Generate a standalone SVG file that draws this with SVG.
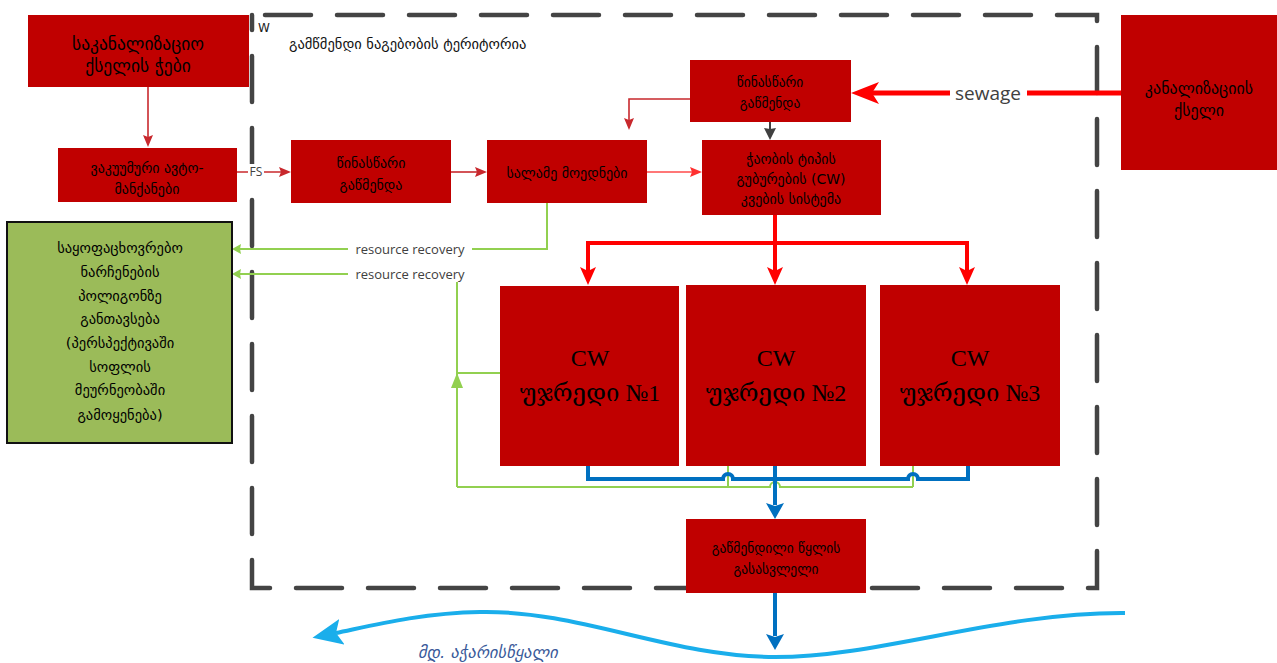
<svg xmlns="http://www.w3.org/2000/svg" width="1277" height="663" viewBox="0 0 1277 663">
<defs>
<style>
.box{fill:#c00000}
.t{font-family:"DejaVu Sans",sans-serif;fill:#000;text-anchor:middle}
.cw{font-family:"Liberation Serif","DejaVu Serif","DejaVu Sans",serif;fill:#000;text-anchor:middle;font-size:24px}
.lbl{font-family:"Open Sans","DejaVu Sans",sans-serif;fill:#404040;text-anchor:middle}
.dr{fill:none;stroke:#c8282d;stroke-width:1.6}
.lr{fill:none;stroke:#ff4a4a;stroke-width:1.6}
.rd{fill:none;stroke:#ff0000;stroke-width:4}
.gr{fill:none;stroke:#92d050;stroke-width:2}
.bl{fill:none;stroke:#0070c0;stroke-width:4}
</style>
<marker id="mDR" viewBox="0 0 12 10" refX="2" refY="5" markerWidth="12" markerHeight="10" markerUnits="userSpaceOnUse" orient="auto"><path d="M0,0L12,5L0,10L2,5z" fill="#c8282d"/></marker>
<marker id="mLR" viewBox="0 0 12 10" refX="2" refY="5" markerWidth="12" markerHeight="10" markerUnits="userSpaceOnUse" orient="auto"><path d="M0,0L12,5L0,10L2,5z" fill="#ff3030"/></marker>
<marker id="mGy" viewBox="0 0 12 12" refX="1" refY="6" markerWidth="12" markerHeight="12" markerUnits="userSpaceOnUse" orient="auto"><path d="M0,0L12,6L0,12L1,6z" fill="#404040"/></marker>
<marker id="mSew" viewBox="0 0 28 22" refX="7" refY="11" markerWidth="28" markerHeight="22" markerUnits="userSpaceOnUse" orient="auto"><path d="M0,0L28,11L0,22L7,11z" fill="#ff0000"/></marker>
<marker id="mRB" viewBox="0 0 18 16" refX="4" refY="8" markerWidth="18" markerHeight="16" markerUnits="userSpaceOnUse" orient="auto"><path d="M0,0L18,8L0,16L4,8z" fill="#ff0000"/></marker>
<marker id="mGr" viewBox="0 0 9 10" refX="1" refY="5" markerWidth="9" markerHeight="10" markerUnits="userSpaceOnUse" orient="auto"><path d="M0,0L9,5L0,10L1,5z" fill="#92d050"/></marker>
<marker id="mBl" viewBox="0 0 16 18" refX="2" refY="9" markerWidth="16" markerHeight="18" markerUnits="userSpaceOnUse" orient="auto"><path d="M0,0L16,9L0,18L3,9z" fill="#0070c0"/></marker>
<marker id="mRv" viewBox="0 0 30 26" refX="6" refY="13" markerWidth="30" markerHeight="26" markerUnits="userSpaceOnUse" orient="auto"><path d="M0,0L30,13L0,26L6,13z" fill="#1aaeeb"/></marker>
</defs>
<rect width="1277" height="663" fill="#fff"/>

<g id="boundary">
<path d="M265,15 L1097,15 L1097,588 L252,588 L252,15" fill="none" stroke="#444" stroke-width="4.5" stroke-linecap="round" stroke-dasharray="46,26"/>
<text x="258" y="32" font-family="DejaVu Sans,sans-serif" font-size="12" fill="#222">W</text>
<text x="289" y="49" font-family="DejaVu Sans,sans-serif" font-size="14.5" fill="#111">გამწმენდი ნაგებობის ტერიტორია</text>
</g>

<g id="connectors">
<path class="dr" d="M148,87 L148,137" marker-end="url(#mDR)"/>
<path class="dr" d="M237,172 L281,172" marker-end="url(#mDR)"/>
<rect x="248" y="164" width="16" height="15" fill="#fff"/>
<text class="lbl" x="256" y="176" font-size="12">FS</text>
<path class="dr" d="M451,172 L477,172" marker-end="url(#mDR)"/>
<path class="lr" d="M647,172 L692,172" marker-end="url(#mLR)"/>
<path class="dr" d="M690,99 L629,99 L629,120" marker-end="url(#mDR)"/>
<path fill="none" stroke="#404040" stroke-width="2" d="M770,122 L770,129" marker-end="url(#mGy)"/>
<path fill="none" stroke="#ff0000" stroke-width="5" d="M1121,93 L872,93" marker-end="url(#mSew)"/>
<rect x="950" y="81" width="77" height="24" fill="#fff"/>
<text class="lbl" x="988" y="100" font-size="19">sewage</text>
<path class="rd" d="M775,215 L775,271" marker-end="url(#mRB)"/>
<path class="rd" d="M775,243 L588,243 L588,271" marker-end="url(#mRB)"/>
<path class="rd" d="M775,243 L967,243 L967,271" marker-end="url(#mRB)"/>
<path class="gr" d="M547,203 L547,249 L240,249" marker-end="url(#mGr)"/>
<path class="gr" d="M500,373 L457,373"/>
<path class="gr" d="M457,487 L457,274 L240,274" marker-end="url(#mGr)"/>
<polygon points="457,373 451,388 463,388" fill="#92d050"/>
<path class="gr" d="M728,466 L728,487 M913,466 L913,487 M457,487 L770,487 A5,5 0 0 1 780,487 L913,487"/>
<rect x="348" y="241" width="124" height="16" fill="#fff"/>
<text class="lbl" x="410" y="254" font-size="13">resource recovery</text>
<rect x="348" y="266" width="124" height="16" fill="#fff"/>
<text class="lbl" x="410" y="279" font-size="13">resource recovery</text>
<path class="bl" d="M588,466 L588,479 L723,479 A5,5 0 0 1 733,479 L908,479 A5,5 0 0 1 918,479 L968,479 L968,466"/>
<path class="bl" d="M775,466 L775,505" marker-end="url(#mBl)"/>
<path class="bl" d="M775,593 L775,636" marker-end="url(#mBl)"/>
<path fill="none" stroke="#1aaeeb" stroke-width="4" d="M1125,613 C1000,612 880,657 775,657 C670,657 580,610 480,612 C420,613 370,626 336,633" marker-end="url(#mRv)"/>
</g>

<g id="n-sewer-wells">
<rect class="box" x="28" y="15" width="221" height="72"/>
<text class="t" font-size="17.5" x="138" y="50">საკანალიზაციო</text>
<text class="t" font-size="17.5" x="138" y="72">ქსელის ჭები</text>
</g>
<g id="n-vacuum-trucks">
<rect class="box" x="58" y="148" width="179" height="54"/>
<text class="t" font-size="14" x="147" y="173">ვაკუუმური ავტო-</text>
<text class="t" font-size="14" x="147" y="194">მანქანები</text>
</g>
<g id="n-pretreat-left">
<rect class="box" x="291" y="140" width="160" height="63"/>
<text class="t" font-size="14" x="371" y="168">წინასწარი</text>
<text class="t" font-size="14" x="371" y="190">გაწმენდა</text>
</g>
<g id="n-sludge-beds">
<rect class="box" x="487" y="140" width="160" height="63"/>
<text class="t" font-size="14" x="567" y="178">სალამე მოედნები</text>
</g>
<g id="n-pretreat-top">
<rect class="box" x="690" y="60" width="161" height="62"/>
<text class="t" font-size="13.5" x="770" y="87">წინასწარი</text>
<text class="t" font-size="13.5" x="770" y="108">გაწმენდა</text>
</g>
<g id="n-cw-feed">
<rect class="box" x="702" y="140" width="179" height="75"/>
<text class="t" font-size="14" x="791" y="164">ჭაობის ტიპის</text>
<text class="t" font-size="14" x="791" y="184">გუბურების (CW)</text>
<text class="t" font-size="14" x="791" y="204">კვების სისტემა</text>
</g>
<g id="n-sewer-network">
<rect class="box" x="1121" y="15" width="156" height="155"/>
<text class="t" font-size="16" x="1199" y="94">კანალიზაციის</text>
<text class="t" font-size="16" x="1199" y="116">ქსელი</text>
</g>
<g id="n-landfill">
<rect x="7" y="222" width="225" height="221" fill="#9bbb59" stroke="#111" stroke-width="2"/>
<text class="t" font-size="14.5" x="120" y="253">საყოფაცხოვრებო</text>
<text class="t" font-size="14.5" x="120" y="277">ნარჩენების</text>
<text class="t" font-size="14.5" x="120" y="301">პოლიგონზე</text>
<text class="t" font-size="14.5" x="120" y="324">განთავსება</text>
<text class="t" font-size="14.5" x="120" y="348">(პერსპექტივაში</text>
<text class="t" font-size="14.5" x="120" y="372">სოფლის</text>
<text class="t" font-size="14.5" x="120" y="395">მეურნეობაში</text>
<text class="t" font-size="14.5" x="120" y="420">გამოყენება)</text>
</g>
<g id="n-cw1">
<rect class="box" x="500" y="286" width="179" height="180"/>
<text class="cw" x="590" y="366">CW</text>
<text class="cw" x="590" y="401">უჯრედი №1</text>
</g>
<g id="n-cw2">
<rect class="box" x="686" y="285" width="180" height="181"/>
<text class="cw" x="776" y="366">CW</text>
<text class="cw" x="776" y="401">უჯრედი №2</text>
</g>
<g id="n-cw3">
<rect class="box" x="880" y="285" width="180" height="181"/>
<text class="cw" x="970" y="366">CW</text>
<text class="cw" x="970" y="401">უჯრედი №3</text>
</g>
<g id="n-outlet">
<rect class="box" x="686" y="519" width="180" height="74"/>
<text class="t" font-size="13.5" x="776" y="553">გაწმენდილი წყლის</text>
<text class="t" font-size="13.5" x="776" y="574">გასასვლელი</text>
</g>
<g id="river-label">
<text x="418" y="658" font-family="DejaVu Sans,sans-serif" font-style="italic" font-size="16.5" fill="#3a5a9a">მდ. აჭარისწყალი</text>
</g>
</svg>
